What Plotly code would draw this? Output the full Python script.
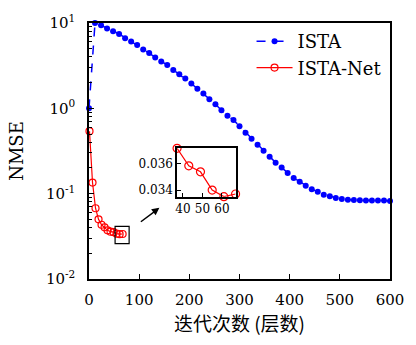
import plotly.graph_objects as go

# ---- data ----
ista_x = [0] + [12 * i for i in range(1, 51)]
ista_y = [1.0, 10.0, 9.4, 8.6, 8.0, 7.45, 6.64, 6.06, 5.51, 4.90, 4.45, 3.95, 3.55, 3.23,
          2.82, 2.51, 2.23, 1.95, 1.70, 1.49, 1.28, 1.12, 0.95, 0.82, 0.73,
          0.618, 0.516, 0.44, 0.374, 0.318, 0.271, 0.231, 0.202, 0.175, 0.153,
          0.138, 0.124, 0.113, 0.105, 0.0973, 0.093, 0.0891, 0.0868, 0.0851,
          0.0845, 0.0836, 0.083, 0.083, 0.083, 0.083, 0.0822]
net_x = [1, 7, 13, 19, 25, 31, 37, 43, 49, 55, 61, 67]
net_y = [0.54, 0.135, 0.0675, 0.050, 0.0432, 0.0403, 0.03716, 0.03583, 0.03538,
         0.0340, 0.0335, 0.0337]
inset_n = 6
x_ticks = [0, 100, 200, 300, 400, 500, 600]
y_ticks = [0.01, 0.1, 1, 10]
y_ticktext = ["10<sup>-2</sup>", "10<sup>-1</sup>", "10<sup>0</sup>", "10<sup>1</sup>"]
inset_xticks = [40, 50, 60]
inset_yticks = [0.034, 0.036]

FONT = "DejaVu Serif"
CJK = "Noto Sans CJK SC"

fig = go.Figure()
fig.add_trace(go.Scatter(x=ista_x, y=ista_y, mode="lines+markers", name="ISTA",
                         line=dict(color="#0000ff", width=1.5, dash="dash"),
                         marker=dict(color="#0000ff", size=6, symbol="circle"),
                         cliponaxis=False))
fig.add_trace(go.Scatter(x=net_x, y=net_y, mode="lines+markers", name="ISTA-Net",
                         line=dict(color="#ff0000", width=1.2),
                         marker=dict(color="#ff0000", size=7, symbol="circle-open",
                                     line=dict(width=1.2)),
                         cliponaxis=False))
# inset
fig.add_trace(go.Scatter(x=net_x[-inset_n:], y=net_y[-inset_n:], mode="lines+markers",
                         showlegend=False, xaxis="x2", yaxis="y2",
                         line=dict(color="#ff0000", width=1.2),
                         marker=dict(color="#ff0000", size=8, symbol="circle-open",
                                     line=dict(width=1.2)),
                         cliponaxis=False))

axcommon = dict(showline=True, linecolor="black", linewidth=1.5, mirror=True,
                showgrid=False, zeroline=False, ticks="inside", tickcolor="black")

fig.update_layout(
    width=416, height=345,
    margin=dict(l=89, r=16, t=21, b=66),
    paper_bgcolor="white", plot_bgcolor="white",
    font=dict(family=FONT, size=15, color="black"),
    xaxis=dict(**axcommon, range=[0, 600], tickvals=x_ticks, ticklen=5,
               ticklabelstandoff=6,
               title=dict(text="迭代次数 (层数)", font=dict(family=CJK, size=19), standoff=8),
               tickfont=dict(size=15)),
    yaxis=dict(**axcommon, type="log", range=[-2, 1], tickvals=y_ticks, ticktext=y_ticktext,
               ticklen=5, tickfont=dict(size=15), ticklabelstandoff=9,
               minor=dict(ticks="inside", ticklen=3, tickcolor="black",
                          tickvals=[m * 10 ** e for e in range(-2, 1) for m in range(2, 10)]),
               title=dict(text="NMSE", font=dict(size=18), standoff=18)),
    xaxis2=dict(**axcommon, domain=[0.2926, 0.487], anchor="y2", range=[37, 67],
                tickvals=inset_xticks, ticklen=4, tickfont=dict(size=12)),
    yaxis2=dict(**axcommon, domain=[0.3217, 0.5105], anchor="x2", range=[0.0335, 0.03716],
                tickvals=inset_yticks, ticktext=["0.034", "0.036"], ticklen=4,
                tickfont=dict(size=12)),
    legend=dict(x=0.54, y=1.0, xanchor="left", yanchor="top", bgcolor="rgba(0,0,0,0)",
                font=dict(size=18), tracegroupgap=0, itemwidth=36),
    showlegend=True,
)

# zoom box around the last points
fig.add_shape(type="rect", xref="x", yref="y", x0=52, x1=80, y0=0.026, y1=0.0413,
              line=dict(color="black", width=1.2))
# arrow toward inset
fig.add_annotation(xref="paper", yref="paper", x=0.2338, y=0.2779, ax=-20, ay=15,
                   showarrow=True, arrowhead=2, arrowsize=1, arrowwidth=1.5,
                   arrowcolor="black", text="")

fig.write_html("out.html")
